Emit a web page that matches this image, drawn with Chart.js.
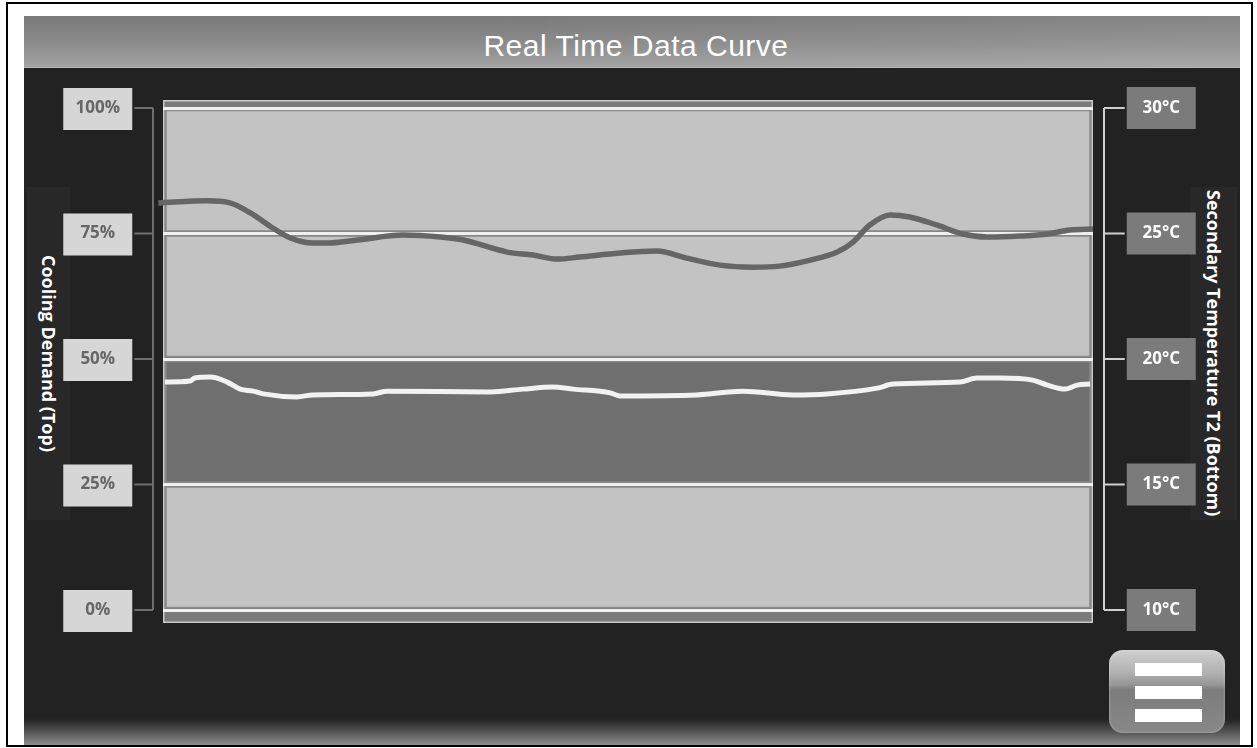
<!DOCTYPE html>
<html>
<head>
<meta charset="utf-8">
<title>Real Time Data Curve</title>
<script src="https://cdn.jsdelivr.net/npm/chart.js@4.4.1/dist/chart.umd.min.js"></script>
<style>
  html, body { margin: 0; padding: 0; background: #fff; }
  body { width: 1257px; height: 748px; position: relative; overflow: hidden; font-family: "Open Sans", sans-serif; }
  #frame { position: absolute; left: 6px; top: 2px; width: 1247px; height: 745px; border: 2px solid #000; box-sizing: border-box; }
  #screen { position: absolute; left: 24px; top: 16px; width: 1216px; height: 729px; background: #222; }
  #titlebar {
    position: absolute; left: 0; top: 0; width: 100%; height: 51px;
    background: linear-gradient(to right, rgba(255,255,255,0) 40%, rgba(255,255,255,0.08)),
                linear-gradient(to bottom, #7a7a7a 0%, #8c8c8c 55%, #a2a2a2 100%);
    border-bottom: 1px solid #b8b8b8;
  }
  #titlebar span {
    position: absolute; left: 8px; right: 0; top: 15px; text-align: center;
    font: 30px "Liberation Sans", Arial, sans-serif; line-height: 30px; color: #fff; letter-spacing: 0.5px;
  }
  #footer { position: absolute; left: 0; bottom: 0; width: 100%; height: 26px; background: linear-gradient(to bottom, #222 0%, #5a5a5a 55%, #8e8e8e 100%); }
  .side { position: absolute; top: 187px; height: 333px; background: #282828; display: flex; align-items: center; justify-content: center; }
  .side span { writing-mode: vertical-rl; color: #fff; font: 700 18px "Open Sans", sans-serif; white-space: nowrap; }
  #menu {
    position: absolute; left: 1109px; top: 650px; width: 116px; height: 83px; border-radius: 14px;
    background: linear-gradient(to bottom, #cfcfcf 0%, #b0b0b0 28%, #969696 42%, #7c7c7c 48%, #888 100%);
    box-shadow: inset 0 0 3px rgba(255,255,255,0.4);
  }
  #menu i { position: absolute; left: 26px; width: 67px; height: 13px; background: #fff; }
  canvas { position: absolute; left: 0; top: 0; }
</style>
</head>
<body>
<div id="frame"></div>
<div id="screen">
  <div id="titlebar"><span>Real Time Data Curve</span></div>
  <div id="footer"></div>
</div>
<div class="side" style="left:27px;width:43px"><span>Cooling Demand (Top)</span></div>
<div class="side" style="left:1190px;width:47px"><span>Secondary Temperature T2 (Bottom)</span></div>
<div id="menu"><i style="top:13px"></i><i style="top:36px"></i><i style="top:59px"></i></div>
<canvas id="chart" width="1257" height="748"></canvas>

<script>
// ------- Data -------
// cooling demand (top curve), % of capacity
const TIME_DEMAND = [-0.5, 4.7, 7.2, 9.4, 11.8, 13.7, 16.1, 17.6, 20.9, 25.8, 29.8, 32.3, 37.0, 39.8,
  42.4, 44.8, 49.1, 53.1, 56.3, 59.9, 63.4, 66.3, 69.6, 72.5, 74.2, 76.0, 78.2, 80.3, 83.2, 86.0,
  88.6, 92.2, 95.1, 97.5, 100];
const DEMAND_PCT = [81.1, 81.5, 81.1, 79.1, 76.1, 74.1, 73.1, 73.1, 73.7, 74.7, 74.3, 73.7, 71.3, 70.7,
  69.9, 70.3, 71.1, 71.5, 70.1, 68.7, 68.3, 68.5, 69.7, 71.3, 73.3, 76.7, 78.7, 78.3, 76.7, 74.9,
  74.3, 74.5, 74.9, 75.7, 75.9];

// secondary temperature T2 (bottom curve), °C
const TIME_T2 = [0.2, 2.9, 3.4, 5.1, 6.9, 8.3, 9.7, 10.8, 14.4, 16.1, 22.6, 24.1, 35.2, 38.7, 41.9,
  44.1, 48.1, 49.1, 57.4, 62.4, 67.7, 71.4, 76.8, 78.5, 85.7, 87.5, 90.0, 93.5, 95.1, 97.0, 98.3, 99.7];
const TEMP_T2 = [19.08, 19.12, 19.24, 19.28, 19.08, 18.80, 18.72, 18.61, 18.49, 18.57, 18.61, 18.72,
  18.69, 18.80, 18.88, 18.80, 18.65, 18.53, 18.57, 18.72, 18.57, 18.61, 18.84, 19.00, 19.08, 19.24,
  19.24, 19.16, 18.96, 18.80, 18.96, 19.00];

// axis ticks
const PCT_TICKS = [0, 25, 50, 75, 100];
const TEMP_TICKS = [10, 15, 20, 25, 30];

// ------- Styles -------
const BAND_SHADES = ['#c3c3c3', '#6f6f6f', '#c3c3c3', '#c3c3c3']; // 0-25, 25-50, 50-75, 75-100
const TICK_FONT = { family: 'Open Sans', size: 17, weight: '700' };
const BOX_W = 69, BOX_H = 42;

function pairs(xs, ys) {
  return xs.map((x, i) => ({ x, y: ys[i] }));
}

function widestLabel(ctx, scale) {
  ctx.font = `${TICK_FONT.weight} ${TICK_FONT.size}px "${TICK_FONT.family}"`;
  return Math.max(...scale.ticks.map(t => ctx.measureText(t.label).width));
}

// plot background, bands and the bracketed tick boxes
const panelPlugin = {
  id: 'panel',
  beforeDraw(chart) {
    const { ctx, chartArea: a, scales: { y, y2 } } = chart;
    ctx.save();

    // outer frame of the plot
    const fTop = a.top - 8, fBottom = a.bottom + 13;
    ctx.fillStyle = '#7b7b7b';
    ctx.fillRect(a.left, fTop, a.right - a.left, fBottom - fTop);
    ctx.strokeStyle = '#c9c9c9';
    ctx.lineWidth = 1.5;
    ctx.strokeRect(a.left + 0.75, fTop + 0.75, a.right - a.left - 1.5, fBottom - fTop - 1.5);

    // bands between the percentage ticks
    for (let i = 0; i < PCT_TICKS.length - 1; i++) {
      const yt = y.getPixelForValue(PCT_TICKS[i + 1]) + 2.5;
      const yb = y.getPixelForValue(PCT_TICKS[i]) - 2.5;
      ctx.fillStyle = BAND_SHADES[i];
      ctx.fillRect(a.left + 3, yt, a.right - a.left - 6, yb - yt);
      ctx.strokeStyle = '#8b8b8b';
      ctx.lineWidth = 1.5;
      ctx.strokeRect(a.left + 3, yt, a.right - a.left - 6, yb - yt);
    }

    // left bracket + boxes
    const lcx = y.right - y.options.ticks.padding - widestLabel(ctx, y) / 2;
    const lBar = a.left - 10;
    ctx.strokeStyle = '#6e6e6e';
    ctx.lineWidth = 2;
    ctx.beginPath();
    ctx.moveTo(lBar, y.getPixelForValue(100));
    ctx.lineTo(lBar, y.getPixelForValue(0));
    y.ticks.forEach(t => {
      const py = y.getPixelForValue(t.value);
      ctx.moveTo(lcx + BOX_W / 2 + 2, py);
      ctx.lineTo(lBar, py);
    });
    ctx.stroke();
    ctx.fillStyle = '#d6d6d6';
    y.ticks.forEach(t => {
      const py = y.getPixelForValue(t.value);
      ctx.fillRect(lcx - BOX_W / 2, py - BOX_H / 2 + 1, BOX_W, BOX_H);
    });

    // right bracket + boxes
    const rcx = y2.left + y2.options.ticks.padding + widestLabel(ctx, y2) / 2;
    const rBar = a.right + 11;
    ctx.strokeStyle = '#cfcfcf';
    ctx.beginPath();
    ctx.moveTo(rBar, y2.getPixelForValue(30));
    ctx.lineTo(rBar, y2.getPixelForValue(10));
    y2.ticks.forEach(t => {
      const py = y2.getPixelForValue(t.value);
      ctx.moveTo(rBar, py);
      ctx.lineTo(rcx - BOX_W / 2 - 2, py);
    });
    ctx.stroke();
    ctx.fillStyle = '#7b7b7b';
    y2.ticks.forEach(t => {
      const py = y2.getPixelForValue(t.value);
      ctx.fillRect(rcx - BOX_W / 2, py - BOX_H / 2, BOX_W, BOX_H);
    });

    ctx.restore();
  }
};

new Chart(document.getElementById('chart'), {
  type: 'line',
  data: {
    datasets: [{
      label: 'Cooling Demand',
      data: pairs(TIME_DEMAND, DEMAND_PCT),
      yAxisID: 'y',
      borderColor: '#666666',
      borderWidth: 5.5,
      pointRadius: 0,
      cubicInterpolationMode: 'monotone',
      clip: false
    }, {
      label: 'Secondary Temperature T2',
      data: pairs(TIME_T2, TEMP_T2),
      yAxisID: 'y2',
      borderColor: '#f2f2f2',
      borderWidth: 5,
      pointRadius: 0,
      cubicInterpolationMode: 'monotone',
      clip: false
    }]
  },
  options: {
    responsive: false,
    animation: false,
    layout: { padding: { top: 108, bottom: 138, left: 0, right: 0 } },
    plugins: { legend: { display: false }, tooltip: { enabled: false } },
    scales: {
      x: { type: 'linear', min: 0, max: 100, display: false },
      y: {
        position: 'left',
        min: PCT_TICKS[0], max: PCT_TICKS[PCT_TICKS.length - 1],
        afterBuildTicks: s => { s.ticks = PCT_TICKS.map(v => ({ value: v })); },
        afterFit: s => { s.width = 163; },
        grid: { color: '#f0f0f0', lineWidth: 3, drawTicks: false },
        border: { display: false },
        ticks: { padding: 43, crossAlign: 'center', color: '#666666', font: TICK_FONT, callback: v => v + '%' }
      },
      y2: {
        position: 'right',
        min: TEMP_TICKS[0], max: TEMP_TICKS[TEMP_TICKS.length - 1],
        afterBuildTicks: s => { s.ticks = TEMP_TICKS.map(v => ({ value: v })); },
        afterFit: s => { s.width = 164; },
        grid: { display: false, drawTicks: false },
        border: { display: false },
        ticks: { padding: 49.5, crossAlign: 'center', color: '#ffffff', font: TICK_FONT, callback: v => v + '°C' }
      }
    }
  },
  plugins: [panelPlugin]
});
</script>
</body>
</html>
